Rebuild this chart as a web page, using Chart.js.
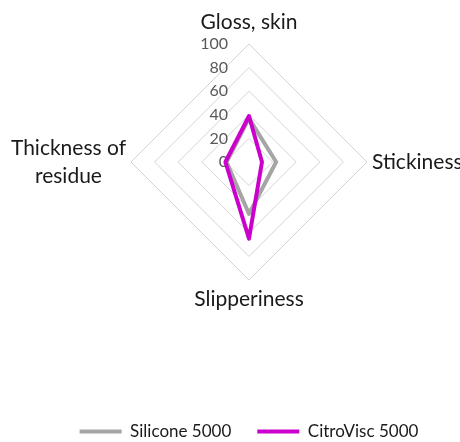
<!DOCTYPE html>
<html>
<head>
<meta charset="utf-8">
<script src="https://cdn.jsdelivr.net/npm/chart.js@4.4.0/dist/chart.umd.min.js"></script>
<style>
  html, body { margin: 0; padding: 0; background: #fff; }
  #wrap { width: 460px; height: 442px; }
</style>
</head>
<body>
<div id="wrap"><canvas id="radarChart" width="460" height="442"></canvas></div>
<script>
// Sensory profile data
const categories = [['Gloss, skin'], ['Stickiness'], ['Slipperiness'], ['Thickness of', 'residue']];
const siliconeValues = [37, 23, 44, 19];
const citroviscValues = [39, 11, 65, 20];
const tickLabels = [0, 20, 40, 60, 80, 100];

const GREY = '#A5A5A5';
const MAGENTA = '#CC00CC';

// Tick labels sit left of the vertical axis, category labels around the web
const axisText = {
  id: 'axisText',
  beforeDatasetsDraw(chart) {
    const scale = chart.scales.r;
    const ctx = chart.ctx;
    ctx.save();

    ctx.font = '16px Lato';
    ctx.fillStyle = '#595959';
    ctx.textAlign = 'right';
    ctx.textBaseline = 'middle';
    tickLabels.forEach(v => {
      const d = scale.getDistanceFromCenterForValue(v);
      ctx.fillText(String(v), scale.xCenter - 21, scale.yCenter - d);
    });

    ctx.font = '21px Lato';
    ctx.fillStyle = '#1a1a1a';
    ctx.textAlign = 'center';
    const lh = 28;
    categories.forEach((lines, i) => {
      const angle = scale.getIndexAngle(i);
      const sin = Math.sin(angle);
      const cos = Math.cos(angle);
      // a bit more room above the top label
      const gap = cos > 0.5 ? 8 : 5;
      const pos = scale.getPointPosition(i, scale.drawingArea + gap);
      const w = Math.max(...lines.map(t => ctx.measureText(t).width));
      const h = lines.length * lh;
      const left = pos.x - w / 2 * (1 - sin);
      const top = pos.y - h / 2 * (1 + cos);
      lines.forEach((t, k) => {
        ctx.fillText(t, left + w / 2, top + lh * (k + 0.5));
      });
    });
    ctx.restore();
  }
};

// Push the legend down to the bottom edge
const legendSpacing = {
  id: 'legendSpacing',
  beforeInit(chart) {
    const legend = chart.legend;
    const fit = legend.fit;
    legend.fit = function() {
      fit.call(this);
      this.height += 108;
    };
    const draw = legend.draw;
    legend.draw = function() {
      this.top += 116;
      draw.call(this);
      this.top -= 116;
    };
  }
};

const ctx = document.getElementById('radarChart').getContext('2d');
new Chart(ctx, {
  type: 'radar',
  data: {
    labels: categories,
    datasets: [{
      label: 'Silicone 5000',
      data: siliconeValues,
      borderColor: GREY,
      backgroundColor: GREY,
      borderWidth: 4,
      borderJoinStyle: 'round',
      borderCapStyle: 'round',
      pointRadius: 0,
      fill: false,
      order: 1
    }, {
      label: 'CitroVisc 5000',
      data: citroviscValues,
      borderColor: MAGENTA,
      backgroundColor: MAGENTA,
      borderWidth: 4,
      borderJoinStyle: 'round',
      borderCapStyle: 'round',
      pointRadius: 0,
      fill: false,
      order: 0
    }]
  },
  options: {
    responsive: false,
    animation: false,
    layout: {
      padding: { left: 40, right: 2, top: 44, bottom: 0 }
    },
    plugins: {
      legend: {
        position: 'bottom',
        labels: {
          usePointStyle: true,
          pointStyle: 'line',
          pointStyleWidth: 42,
          padding: 26,
          color: '#1a1a1a',
          font: { family: 'Lato', size: 17 },
          sort: (a, b) => a.datasetIndex - b.datasetIndex
        }
      },
      tooltip: { enabled: false }
    },
    scales: {
      r: {
        min: 0,
        max: 100,
        ticks: { stepSize: 20, display: false },
        grid: { color: '#D4D4D4', lineWidth: 1 },
        angleLines: { display: false },
        pointLabels: { display: false }
      }
    }
  },
  plugins: [axisText, legendSpacing]
});
</script>
</body>
</html>
